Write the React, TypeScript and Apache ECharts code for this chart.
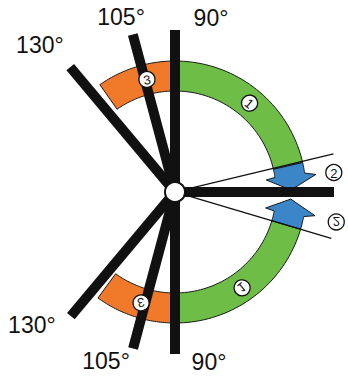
import React, { useEffect, useRef } from "react";
import * as echarts from "echarts";

// Angles in degrees, counter-clockwise from the right-hand horizontal.
const barAngles = [90, 105, 130, 0, -90, -105, -130];
const barLengths = [162, 163, 163, 159, 162, 162, 162];
const guideAngles = [13.5, -16.5];
const ringFrom = [13, -16.5, 90, -90];
const ringTo = [90, -90, 125, -126];
const ringKinds = ["green", "green", "orange", "orange"];
const arrowBoundary = [13, -16.5];
const arrowBase = [8.3, -10.8];
const arrowTip = [1, -3.5];
const degreeLabels = ["90°", "105°", "130°", "130°", "105°", "90°"];
const degreeAngles = [90, 105, 130, -130, -105, -90];
const markerTexts = ["1", "3", "2", "1", "3", "2"];
const markerAngles = [50, 104, 7, -55, -107, -10.5];

// ---- layout / style (not data) ----
const COLORS: Record<string, string> = {
  green: "#6dbd46",
  orange: "#f07a2a",
  blue: "#3a86c8",
  ink: "#111111",
};
const RING_INNER = 101;
const RING_OUTER = 131;
const BAR_WIDTH = 10;
const FONT = "Liberation Sans, Arial, sans-serif";
const markerRadius = [116, 116, 160, 117, 116, 164];
const markerRotation = [-40, 10, 0, 40, 190, 0];
const markerFlip = [1, 1, 1, -1, 1, -1];
const labelOffsets = [
  [36, 12],
  [-12, 19],
  [-31, 23],
  [-39, -9],
  [-27, -13],
  [34, -8],
];

const rad = (d: number) => (d * Math.PI) / 180;
const P = (api: any, r: number, deg: number) =>
  api.coord([r * Math.cos(rad(deg)), r * Math.sin(rad(deg))]);
const arc = (api: any, r: number, a: number, b: number, n = 40) => {
  const pts: number[][] = [];
  for (let k = 0; k <= n; k++) pts.push(P(api, r, a + ((b - a) * k) / n));
  return pts;
};

export default function App() {
  const ref = useRef<HTMLDivElement>(null);
  useEffect(() => {
    if (!ref.current) return;
    const chart = echarts.init(ref.current, undefined, { renderer: "svg" });
    const option: any = {
      animation: false,
      backgroundColor: "#ffffff",
      grid: { left: 0, right: 0, top: 0, bottom: 0 },
      xAxis: { type: "value", min: -175, max: 173, show: false },
      yAxis: { type: "value", min: -190, max: 192, show: false },
      series: [
        {
          type: "custom",
          z: 1,
          clip: false,
          data: ringFrom.map((f, i) => [f, ringTo[i], i]),
          renderItem: (_p: any, api: any) => {
            const a = api.value(0), b = api.value(1), i = api.value(2);
            const pts = arc(api, RING_OUTER, a, b).concat(arc(api, RING_INNER, b, a));
            return {
              type: "polygon",
              shape: { points: pts },
              style: { fill: COLORS[ringKinds[i]], stroke: "#1a1a1a", lineWidth: 1 },
            };
          },
        },
        {
          type: "custom",
          z: 2,
          clip: false,
          data: arrowBoundary.map((b, i) => [b, arrowBase[i], arrowTip[i]]),
          renderItem: (_p: any, api: any) => {
            const bd = api.value(0), bs = api.value(1), tp = api.value(2);
            const s = Math.sign(bd);
            const mid = (RING_INNER + RING_OUTER) / 2;
            const pts = arc(api, RING_INNER, bd, bs, 12)
              .concat([
                P(api, RING_INNER - 9, bs - 0.8 * s),
                P(api, mid, tp),
                P(api, RING_OUTER + 11, bs - 1.2 * s),
              ])
              .concat(arc(api, RING_OUTER, bs, bd, 12));
            return {
              type: "polygon",
              shape: { points: pts },
              style: { fill: COLORS.blue, stroke: "#1a1a1a", lineWidth: 1 },
            };
          },
        },
        {
          type: "custom",
          z: 3,
          clip: false,
          data: guideAngles.map((a) => [a, 0]),
          renderItem: (_p: any, api: any) => {
            const a = api.value(0);
            const p1 = P(api, 12, a), p2 = P(api, 163, a);
            return {
              type: "line",
              shape: { x1: p1[0], y1: p1[1], x2: p2[0], y2: p2[1] },
              style: { stroke: COLORS.ink, lineWidth: 1.3 },
            };
          },
        },
        {
          type: "custom",
          z: 4,
          clip: false,
          data: barAngles.map((a, i) => [a, barLengths[i]]),
          renderItem: (_p: any, api: any) => {
            const a = api.value(0), l = api.value(1);
            const p1 = P(api, 0, a), p2 = P(api, l, a);
            return {
              type: "line",
              shape: { x1: p1[0], y1: p1[1], x2: p2[0], y2: p2[1] },
              style: { stroke: COLORS.ink, lineWidth: BAR_WIDTH, lineCap: "butt" },
            };
          },
        },
        {
          type: "custom",
          z: 5,
          clip: false,
          data: [[0, 0]],
          renderItem: (_p: any, api: any) => {
            const c = api.coord([0, 0]);
            return {
              type: "circle",
              shape: { cx: c[0], cy: c[1], r: 10 },
              style: { fill: "#ffffff", stroke: COLORS.ink, lineWidth: 2 },
            };
          },
        },
        {
          type: "custom",
          z: 6,
          clip: false,
          data: markerAngles.map((a, i) => [a, i]),
          renderItem: (_p: any, api: any) => {
            const a = api.value(0), i = api.value(1);
            const c = P(api, markerRadius[i], a);
            return {
              type: "group",
              x: c[0],
              y: c[1],
              rotation: rad(markerRotation[i]),
              scaleY: markerFlip[i],
              children: [
                {
                  type: "circle",
                  shape: { cx: 0, cy: 0, r: 8 },
                  style: { fill: "#ffffff", stroke: COLORS.ink, lineWidth: 1.3 },
                },
                {
                  type: "text",
                  x: 0,
                  y: 0.5,
                  style: {
                    text: markerTexts[i],
                    fill: COLORS.ink,
                    font: `13px ${FONT}`,
                    align: "center",
                    verticalAlign: "middle",
                  },
                },
              ],
            };
          },
        },
        {
          type: "custom",
          z: 7,
          clip: false,
          data: degreeAngles.map((a, i) => [a, i]),
          renderItem: (_p: any, api: any) => {
            const a = api.value(0), i = api.value(1);
            const l = 162;
            const c = api.coord([
              l * Math.cos(rad(a)) + labelOffsets[i][0],
              l * Math.sin(rad(a)) + labelOffsets[i][1],
            ]);
            return {
              type: "text",
              x: c[0],
              y: c[1],
              style: {
                text: degreeLabels[i],
                fill: COLORS.ink,
                font: `23px ${FONT}`,
                align: "center",
                verticalAlign: "middle",
              },
            };
          },
        },
      ],
    };
    chart.setOption(option);
    return () => chart.dispose();
  }, []);
  return (
    <div
      ref={ref}
      style={{ position: "absolute", left: 0, top: 0, width: 348, height: 382 }}
    />
  );
}
